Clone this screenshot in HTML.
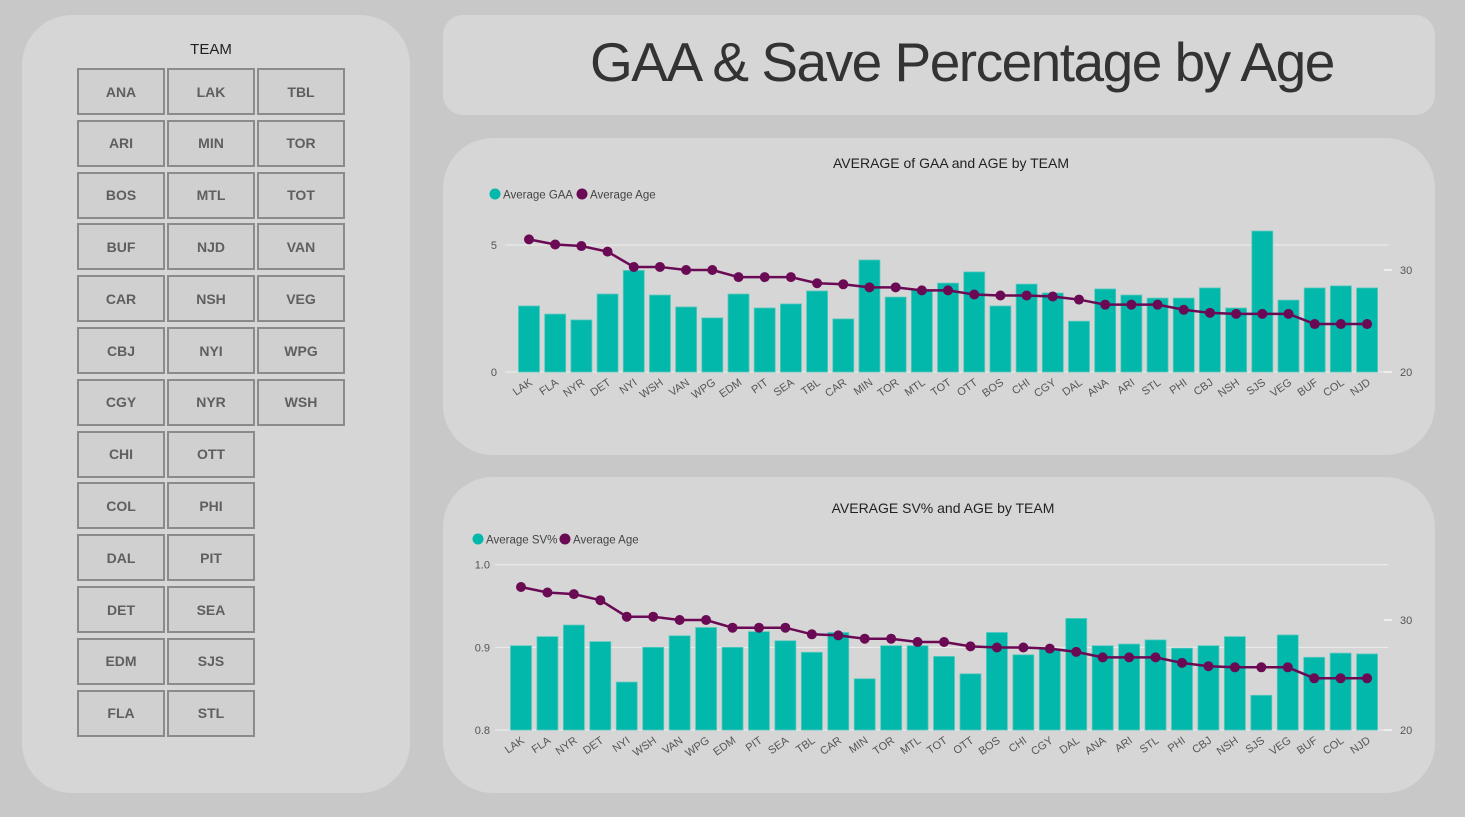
<!DOCTYPE html>
<html><head><meta charset="utf-8"><style>
body{margin:0;width:1465px;height:817px;background:#c8c8c8;font-family:"Liberation Sans",sans-serif;overflow:hidden;position:relative}
.panel{position:absolute;background:#d6d6d6}
.btn{position:absolute;width:84px;height:43px;border:2px solid #8a8c8c;background:#d0d0d0;color:#5f5f5f;font-weight:bold;font-size:14px;display:flex;align-items:center;justify-content:center}
svg{position:absolute;left:0;top:0}
</style></head><body>
<div class="panel" style="left:22px;top:15px;width:388px;height:778px;border-radius:50px"></div>
<div style="position:absolute;left:77px;width:268px;top:41px;text-align:center;font-size:15px;color:#222">TEAM</div>
<div id="btns"></div>
<div class="panel" style="left:443px;top:15px;width:992px;height:100px;border-radius:20px"></div>
<div style="position:absolute;left:590px;top:30px;font-size:55px;color:#333;white-space:nowrap;letter-spacing:-1.5px">GAA &amp; Save Percentage by Age</div>
<div class="panel" style="left:443px;top:138px;width:992px;height:317px;border-radius:50px"></div>
<div class="panel" style="left:443px;top:477px;width:992px;height:316px;border-radius:50px"></div>
<svg id="chart" width="1465" height="817"></svg>
<script>
const slicerTeams=["ANA","LAK","TBL","ARI","MIN","TOR","BOS","MTL","TOT","BUF","NJD","VAN","CAR","NSH","VEG","CBJ","NYI","WPG","CGY","NYR","WSH","CHI","OTT","COL","PHI","DAL","PIT","DET","SEA","EDM","SJS","FLA","STL"];
const teams=["LAK","FLA","NYR","DET","NYI","WSH","VAN","WPG","EDM","PIT","SEA","TBL","CAR","MIN","TOR","MTL","TOT","OTT","BOS","CHI","CGY","DAL","ANA","ARI","STL","PHI","CBJ","NSH","SJS","VEG","BUF","COL","NJD"];
const gaa=[2.6,2.28,2.05,3.07,4.0,3.03,2.56,2.13,3.07,2.52,2.68,3.19,2.09,4.41,2.95,3.23,3.5,3.94,2.6,3.46,3.11,2.0,3.27,3.03,2.91,2.91,3.31,2.52,5.55,2.83,3.31,3.39,3.31];
const svp=[0.902,0.913,0.927,0.907,0.858,0.900,0.914,0.924,0.900,0.919,0.908,0.894,0.918,0.862,0.902,0.902,0.889,0.868,0.918,0.891,0.898,0.935,0.902,0.904,0.909,0.899,0.902,0.913,0.842,0.915,0.888,0.893,0.892];
const age=[33.0,32.5,32.35,31.8,30.3,30.3,30.0,30.0,29.3,29.3,29.3,28.7,28.6,28.3,28.3,28.0,28.0,27.6,27.5,27.5,27.4,27.1,26.6,26.6,26.6,26.1,25.8,25.7,25.7,25.7,24.7,24.7,24.7];
const gaaTicks=[0,5], svTicks=[0.8,0.9,1.0], ageTicks=[20,30];

const btns=document.getElementById('btns');
slicerTeams.forEach((t,i)=>{
  const col=i<21?i%3:(i-21)%2, row=i<21?Math.floor(i/3):7+Math.floor((i-21)/2);
  const b=document.createElement('div');b.className='btn';
  b.style.left=[77,167,257][col]+'px';b.style.top=(68+row*51.8)+'px';b.textContent=t;
  
  
  btns.appendChild(b);
});

const svg=document.getElementById('chart');const NS='http://www.w3.org/2000/svg';
function el(tag,attrs,parent,text){const e=document.createElementNS(NS,tag);for(const k in attrs)e.setAttribute(k,attrs[k]);if(text!==undefined)e.textContent=text;(parent||svg).appendChild(e);return e;}

function drawChart(cfg){
  const g=el('g',{});
  
  
  const t=el('text',{x:cfg.titleX,y:cfg.titleY,'font-size':14,fill:'#222','text-anchor':'middle'},g,cfg.title);
  
  
  let lx=cfg.legX;
  cfg.legend.forEach((L,i)=>{
    const c=el('circle',{cx:lx+5,cy:cfg.legY-4,r:5.5,fill:L.c},g);
    
    
    const tx=el('text',{x:lx+13,y:cfg.legY+0.5,'font-size':11.5,fill:'#444'},g,L.t);
    
    
    lx+=13+L.w;
  });
  const yL=v=>cfg.y0+(v-cfg.lmin)/(cfg.lmax-cfg.lmin)*(cfg.y1-cfg.y0);
  const yR=v=>cfg.y0-(v-20)*cfg.rScale;
  const xC=i=>cfg.x0+i*cfg.step;
  cfg.lticks.forEach(v=>{
    const y=yL(v);
    const ln=el('line',{x1:cfg.gx0,x2:cfg.gx1,y1:y,y2:y,stroke:'#eeeeee','stroke-width':1},g);
    
    
    const tx=el('text',{x:cfg.lx,y:y+4,'font-size':11,fill:'#555','text-anchor':'end'},g,cfg.fmt(v));
    
    
  });
  ageTicks.forEach(v=>{
    const y=yR(v);
    const ln=el('line',{x1:cfg.gx1-4,x2:cfg.gx1+4,y1:y,y2:y,stroke:'#eeeeee','stroke-width':2},g);
    
    
    const tx=el('text',{x:cfg.gx1+12,y:y+4,'font-size':11,fill:'#555'},g,v);
    
    
  });
  cfg.vals.forEach((v,i)=>{
    const y=yL(v);
    const r=el('rect',{x:xC(i)-10.5,y:y,width:21,height:cfg.y0-y,fill:'#01b8aa',stroke:'#5cc9bf','stroke-width':0.8},g);
    
    
  });
  const pts=age.map((a,i)=>xC(i)+','+yR(a)).join(' ');
  const pl=el('polyline',{points:pts,fill:'none',stroke:'#6b0a54','stroke-width':2.5},g);
  
  
  age.forEach((a,i)=>{
    const c=el('circle',{cx:xC(i),cy:yR(a),r:5,fill:'#6b0a54'},g);
    
    
  });
  teams.forEach((tm,i)=>{
    const x=xC(i)+4,y=cfg.y0+12;
    const tx=el('text',{x:x,y:y,'font-size':11,fill:'#555','text-anchor':'end',transform:`rotate(-35 ${x} ${y})`},g,tm);
    
    
  });
}
drawChart({name:'gaa-age-chart',title:'AVERAGE of GAA and AGE by TEAM',titleX:951,titleY:168,legX:490,legY:198,
  legend:[{t:'Average GAA',c:'#01b8aa',w:74},{t:'Average Age',c:'#6b0a54',w:70}],
  vals:gaa,lticks:gaaTicks,lmin:0,lmax:5,y0:372,y1:245,rScale:10.2,x0:529,step:26.19,gx0:505,gx1:1388,lx:497,fmt:v=>v});
drawChart({name:'sv-age-chart',title:'AVERAGE SV% and AGE by TEAM',titleX:943,titleY:513,legX:473,legY:543,
  legend:[{t:'Average SV%',c:'#01b8aa',w:74},{t:'Average Age',c:'#6b0a54',w:70}],
  vals:svp,lticks:svTicks,lmin:0.8,lmax:1.0,y0:730,y1:564.7,rScale:11,x0:521,step:26.44,gx0:495,gx1:1388,lx:490,fmt:v=>v.toFixed(1)});
</script>
</body></html>
